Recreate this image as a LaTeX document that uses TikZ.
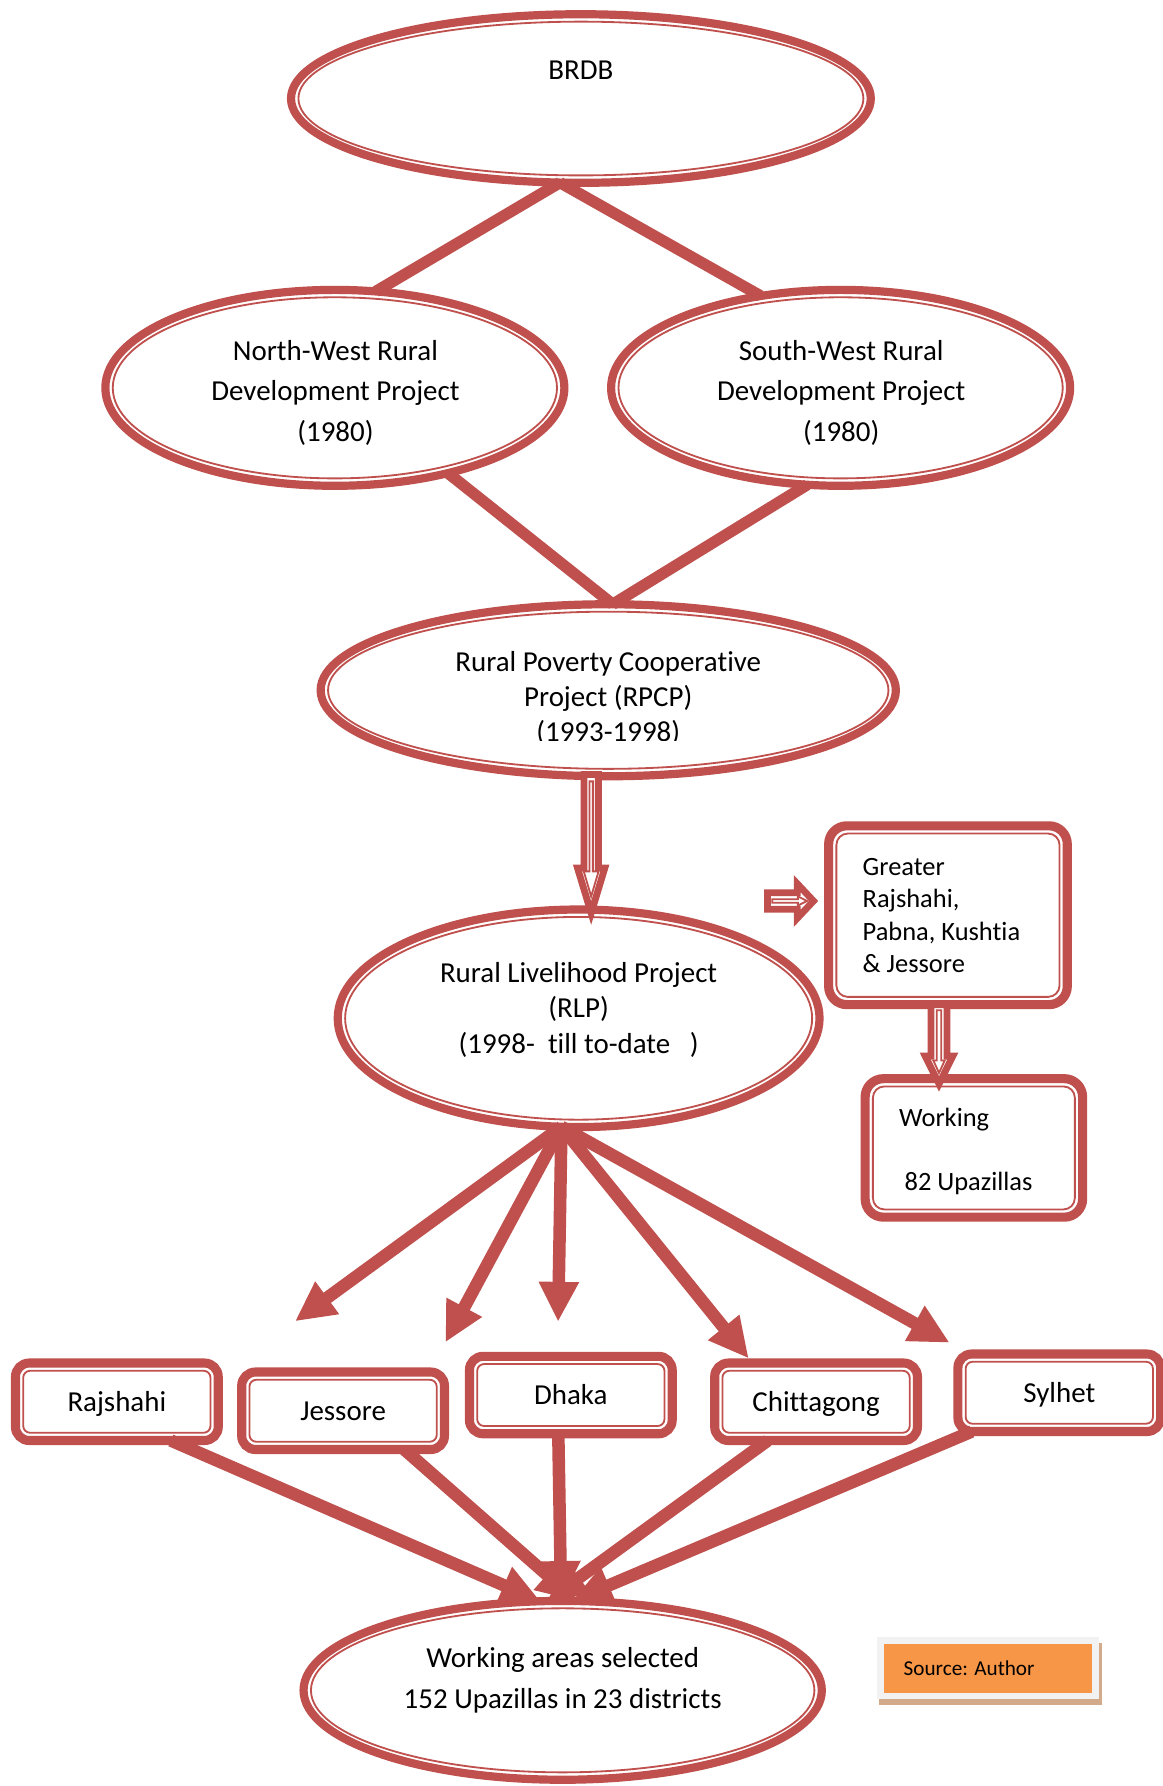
\documentclass[tikz,border=0pt]{standalone}
\usepackage{fontspec}
\setmainfont{Carlito}[Ligatures={NoCommon}]
\usetikzlibrary{shapes.geometric,arrows.meta}
\definecolor{accred}{HTML}{C0504D}
\definecolor{accorange}{HTML}{F79646}
\definecolor{srcgray}{HTML}{F2F2F2}
\definecolor{shadowtan}{HTML}{D4AB8A}
\newcommand\mstrut{\rule[-2pt]{0pt}{12.2pt}}
\newcommand\sstrut{\rule[-2pt]{0pt}{11.5pt}}
\newcommand\mfont[1]{\fontsize{12.7pt}{#1}\selectfont}
\newcommand\sfontx[1]{\fontsize{11.6pt}{#1}\selectfont}
\newcommand\innerell[3]{\draw[ellin] (#1.center) ellipse [x radius=#2pt, y radius=#3pt];}
\newcommand\innerbox[3]{\draw[boxin, rounded corners=#3pt] ([xshift=#2pt,yshift=-#2pt]#1.north west) rectangle ([xshift=-#2pt,yshift=#2pt]#1.south east);}
\begin{document}
\begin{tikzpicture}[x=0.5pt,y=-0.5pt,
  ell/.style={ellipse, draw=accred, line width=3.6pt, fill=white, inner sep=0pt, outer sep=0pt},
  ellin/.style={draw=accred, line width=0.8pt},
  rbox/.style={rectangle, draw=accred, line width=4pt, fill=white, inner sep=0pt, outer sep=0pt, rounded corners=8pt},
  boxin/.style={draw=accred, line width=0.8pt},
  citybox/.style={rbox, rounded corners=6pt, minimum width=89pt, minimum height=34pt, font=\mfont{15pt}, text height=8.2pt, text depth=0pt},
  txt/.style={inner sep=0pt, align=center},
  link/.style={draw=accred, line width=5pt},
  fan/.style={draw=accred, line width=5.5pt, -{Triangle[length=17.5pt,width=16.5pt]}},
  gather/.style={draw=accred, line width=5.5pt, -{Triangle[length=17.5pt,width=16.5pt]}},
  blockout/.style={draw=accred, line width=3pt, fill=white, line join=miter},
  blockin/.style={draw=accred, line width=0.8pt, line join=miter}
]
\path[use as bounding box] (0,0) rectangle (1021,1568);
\clip (0,0) rectangle (1021,1568);
\fill[white] (0,0) rectangle (1021,1568);

% ellipses
\node[ell, minimum width=254.5pt, minimum height=74pt] (brdb) at (510,86.5) {};
\innerell{brdb}{124}{33.75}
\node[ell, minimum width=201.5pt, minimum height=86pt] (nw) at (294,340.5) {};
\innerell{nw}{97.5}{39.75}
\node[ell, minimum width=201.5pt, minimum height=86pt] (sw) at (738,340.5) {};
\innerell{sw}{97.5}{39.75}
\node[ell, minimum width=252.5pt, minimum height=75.5pt] (rpcp) at (534,606) {};
\innerell{rpcp}{123}{34.5}
\node[ell, minimum width=211.5pt, minimum height=95.5pt] (rlp) at (508,894) {};
\innerell{rlp}{102.5}{44.5}
\node[ell, minimum width=227.5pt, minimum height=78.5pt] (work) at (494,1484) {};
\innerell{work}{110.5}{36}

% right-hand boxes
\node[rbox, minimum width=104.75pt, minimum height=78.5pt] (greater) at (832.25,803.5) {};
\innerbox{greater}{3.4}{5}
\node[rbox, minimum width=95.45pt, minimum height=60.8pt] (working) at (855,1007.8) {};
\innerbox{working}{3.4}{5}

% city boxes
\node[citybox] (raj) at (102.6,1230.65) {Rajshahi};
\innerbox{raj}{3.4}{3}
\node[citybox] (jes) at (301.2,1238.55) {Jessore};
\innerbox{jes}{3.4}{3}
\node[citybox] (dha) at (501.15,1224.75) {Dhaka};
\innerbox{dha}{3.4}{3}
\node[citybox] (chi) at (716.45,1230.65) {Chittagong};
\innerbox{chi}{3.4}{3}
\node[citybox] (syl) at (930,1222.75) {Sylhet};
\innerbox{syl}{3.4}{3}

% texts
\node[txt, font=\mfont{15pt}] (brdbText) at (510,62) {\mstrut BRDB};
\node[txt, font=\mfont{17.8pt}] (nwText) at (294.5,343.5) {\mstrut North-West Rural\\\mstrut Development Project\\\mstrut (1980)};
\node[txt, font=\mfont{17.8pt}] (swText) at (738.5,343.5) {\mstrut South-West Rural\\\mstrut Development Project\\\mstrut (1980)};
\begin{scope}
  \clip (380,540) rectangle (690,650);
  \node[txt, font=\mfont{15.35pt}] (rpcpText) at (534,611.7) {\mstrut Rural Poverty Cooperative\\\mstrut Project (RPCP)\\\mstrut (1993-1998)};
\end{scope}
\node[txt, font=\mfont{15.75pt}] (rlpText) at (508,885.5) {\mstrut Rural Livelihood Project\\\mstrut (RLP)\\\mstrut (1998-~~till to-date~~~)};
\node[txt, font=\mfont{18pt}] (workText) at (494,1474) {\mstrut Working areas selected\\\mstrut 152 Upazillas in 23 districts};
\node[txt, align=left, anchor=west, font=\sfontx{14.25pt}] (greaterText) at (757,803.75) {\sstrut Greater\\\sstrut Rajshahi,\\\sstrut Pabna, Kushtia\\\sstrut \& Jessore};
\node[txt, align=left, anchor=west, font=\sfontx{14pt}] (workingText) at (789,1009.5) {\sstrut Working\\\sstrut\\\sstrut\hspace*{2.4pt}82 Upazillas};

% source box
\fill[shadowtan] (772.1,1442.4) rectangle (967.6,1496.8);
\node[rectangle, fill=srcgray, minimum width=97.75pt, minimum height=27.2pt, inner sep=0pt, outer sep=0pt] (source) at (867.35,1464.1) {};
\fill[accorange] (776.4,1443.6) rectangle (958.5,1486.1);
\node[inner sep=0pt, anchor=base west, font=\fontsize{9.3pt}{11pt}\selectfont] (sourceText) at (793,1471.4) {Source: Author};

% block arrows
\draw[blockout] (512.7,680) -- (512.7,762) -- (507,762) -- (519,801.6) -- (531,762) -- (525.3,762) -- (525.3,680) -- cycle;
\draw[blockin] (517.5,686) -- (517.5,765) -- (512.5,765) -- (519,787) -- (525.5,765) -- (520.5,765) -- (520.5,686) -- cycle;
\draw[blockout] (817.4,882) -- (817.4,927.2) -- (812.3,927.2) -- (824.4,951.6) -- (836.5,927.2) -- (831.4,927.2) -- (831.4,882) -- cycle;
\draw[blockin] (822.4,887) -- (822.4,931) -- (819.4,931) -- (824.4,942) -- (829.4,931) -- (826.4,931) -- (826.4,887) -- cycle;
\draw[blockout] (673.8,783.7) -- (700,783.7) -- (700,775.9) -- (714.2,791) -- (700,806.1) -- (700,798.3) -- (673.8,798.3) -- cycle;
\draw[blockin] (678,789.5) -- (700.5,789.5) -- (700.5,787) -- (708.5,791) -- (700.5,795) -- (700.5,792.5) -- (678,792.5) -- cycle;

% links
\draw[link] (brdb.256) -- (nw.67);
\draw[link] (brdb.256) -- (sw.131);
\draw[link] (nw.323) -- (rpcp.87);
\draw[link] (sw.251) -- (rpcp.87);

% fan arrows from RLP
\coordinate (fan1) at (259,1160);
\coordinate (fan2) at (391,1178.5);
\coordinate (fan3) at (490,1160.4);
\coordinate (fan4) at (657.3,1192.6);
\coordinate (fan5) at (833.7,1178.8);
\draw[fan] (rlp.261) -- (fan1);
\draw[fan] (rlp.261) -- (fan2);
\draw[fan] (rlp.261) -- (fan3);
\draw[fan] (rlp.261) -- (fan4);
\draw[fan] (rlp.261) -- (fan5);

% gathering arrows
\draw[gather] ([xshift=23.7pt]raj.south) -- (work.104);
\draw[gather] ([xshift=26.9pt]jes.south) -- (work.81);
\draw[gather] ([xshift=-5.5pt]dha.south) -- (work.91);
\draw[gather] ([xshift=-21.2pt]chi.south) -- (work.100);
\draw[gather] ([xshift=-38.4pt]syl.south) -- (work.84);
\end{tikzpicture}
\end{document}
